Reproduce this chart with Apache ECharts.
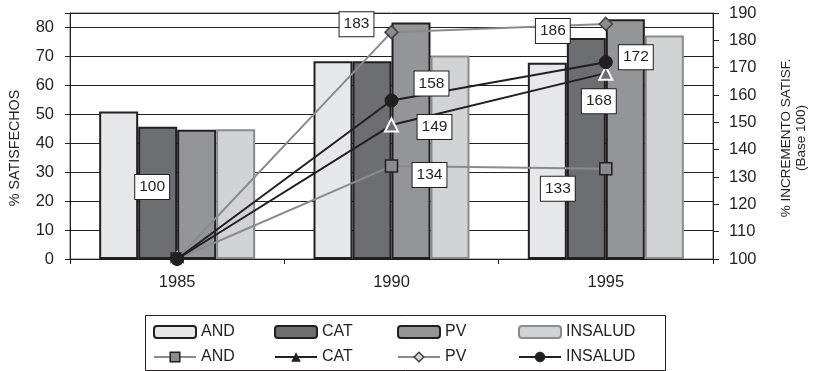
<!DOCTYPE html>
<html><head><meta charset="utf-8">
<script src="https://cdn.jsdelivr.net/npm/echarts@6/dist/echarts.min.js"></script>
<style>html,body{margin:0;padding:0;background:#fff}#c{width:814px;height:371px}</style>
</head><body><div id="c"></div>
<script>
// ---- data ----
const years = ['1985', '1990', '1995'];
const names = ['AND', 'CAT', 'PV', 'INSALUD'];
const barAND = [51, 68.3, 67.8];
const barCAT = [45.7, 68.3, 76.4];
const barPV = [44.7, 81.7, 82.8];
const barINSALUD = [44.8, 70.3, 77.2];
const lineAND = [100, 134, 133];
const lineCAT = [100, 149, 168];
const linePV = [100, 183, 186];
const lineINSALUD = [100, 158, 172];
const leftAxisTicks = { min: 0, max: 85, interval: 10, lastLabel: 80 };
const rightAxisTicks = { min: 100, max: 190, interval: 10 };
const leftAxisTitle = '% SATISFECHOS';
const rightAxisTitle = ['% INCREMENTO SATISF.', '(Base 100)'];

// ---- styles ----
const FONT = '"Liberation Sans", Arial, sans-serif';
const INK = '#231f20';
const barFill = ['#e6e7e8', '#6d6e71', '#939598', '#d1d3d4'];
const barBorder = [INK, INK, INK, '#8a8b8d'];
const labelOffsets = {
  AND: [[-25, -72], [38, 9], [-48, 20]],
  CAT: [null, [43, 2], [-7, 28]],
  PV: [null, [-35, -8], [-53, 7]],
  INSALUD: [null, [40, -17], [30, -5]]
};
const lineStyles = {
  AND: { color: '#8a8b8d', symbol: 'rect', size: 12, fill: '#8a8b8d', border: INK, bw: 1.5 },
  CAT: { color: INK, symbol: 'triangle', size: 13, fill: '#6d6e71', border: '#ffffff', bw: 2 },
  PV: { color: '#8a8b8d', symbol: 'diamond', size: 13, fill: '#8a8b8d', border: '#414042', bw: 1.5 },
  INSALUD: { color: INK, symbol: 'circle', size: 13, fill: INK, border: INK, bw: 1 }
};
const legendSymbolStyle = {
  AND: { color: '#8a8b8d', borderColor: INK, borderWidth: 1.5 },
  CAT: { color: INK, borderColor: INK, borderWidth: 0 },
  PV: { color: '#d1d3d4', borderColor: '#414042', borderWidth: 1.5 },
  INSALUD: { color: INK, borderColor: INK, borderWidth: 1 }
};

const barData = [barAND, barCAT, barPV, barINSALUD];
const lineData = [lineAND, lineCAT, linePV, lineINSALUD];

const series = [];
names.forEach((n, i) => {
  series.push({
    name: n, type: 'bar', xAxisIndex: 0, yAxisIndex: 0,
    data: barData[i], barWidth: 39, barGap: '0%',
    itemStyle: { color: barFill[i], borderColor: barBorder[i], borderWidth: 2 },
    z: 2
  });
});
names.forEach((n, i) => {
  const st = lineStyles[n];
  series.push({
    name: n + ' ', type: 'line', xAxisIndex: 0, yAxisIndex: 1,
    data: lineData[i].map((v, j) => {
      const off = labelOffsets[n][j];
      return off ? { value: v, label: { show: true, offset: off } } : { value: v };
    }),
    symbol: st.symbol, symbolSize: st.size, showAllSymbol: true,
    lineStyle: { color: st.color, width: 2 },
    itemStyle: { color: st.fill, borderColor: st.border, borderWidth: st.bw },
    label: {
      show: false, position: 'inside', fontFamily: FONT, fontSize: 15.5, color: INK,
      backgroundColor: '#ffffff', borderColor: INK, borderWidth: 1, padding: [5, 4, 3, 4],
      formatter: p => String(p.value)
    },
    emphasis: { disabled: true },
    z: 5 + i
  });
});

const legendX = [153, 274, 397, 518];
const legends = [];
names.forEach((n, i) => {
  legends.push({ data: [n], left: legendX[i], top: 324, itemWidth: 42, itemHeight: 12, padding: 0, itemGap: 0,
    textStyle: { fontFamily: FONT, fontSize: 16, color: INK }, selectedMode: false });
  legends.push({ data: [n + ' '], left: legendX[i], top: 349, itemWidth: 42, itemHeight: 12, padding: 0, itemGap: 0,
    textStyle: { fontFamily: FONT, fontSize: 16, color: INK }, selectedMode: false,
    itemStyle: legendSymbolStyle[n],
    formatter: s => s.trim() });
});

const titleText = (txt, x, y, size) => ({
  type: 'text', x: x, y: y, rotation: Math.PI / 2, silent: true,
  style: { text: txt, fontFamily: FONT, fontSize: size, fill: INK, align: 'center', verticalAlign: 'middle' }
});

const chart = echarts.init(document.getElementById('c'), null, { renderer: 'canvas' });
chart.setOption({
  animation: false,
  backgroundColor: '#ffffff',
  grid: { left: 70, right: 101, top: 13, bottom: 112, show: true, borderColor: '#6d6e71', borderWidth: 1 },
  legend: legends,
  graphic: [
    { type: 'rect', left: 143, top: 313, shape: { width: 520, height: 55 },
      style: { fill: 'none', stroke: INK, lineWidth: 1 }, silent: true },
    titleText(leftAxisTitle, 15, 148, 14.3),
    titleText(rightAxisTitle[0], 786, 138, 13.5),
    titleText(rightAxisTitle[1], 801, 138, 13.5)
  ],
  xAxis: [{
    type: 'category', data: years, boundaryGap: true,
    axisLine: { lineStyle: { color: INK, width: 1 } },
    axisTick: { show: true, length: 5, lineStyle: { color: INK } },
    axisLabel: { fontFamily: FONT, fontSize: 16.5, color: INK, margin: 15 }
  }],
  yAxis: [{
    type: 'value', position: 'left', min: leftAxisTicks.min, max: leftAxisTicks.max, interval: leftAxisTicks.interval,
    axisLine: { show: true, lineStyle: { color: INK } },
    axisTick: { show: true, length: 5, lineStyle: { color: INK } },
    axisLabel: { fontFamily: FONT, fontSize: 16.5, color: INK, margin: 16,
      formatter: v => (v > leftAxisTicks.lastLabel ? '' : String(v)) },
    splitLine: { show: true, lineStyle: { color: INK, width: 1 } }
  }, {
    type: 'value', position: 'right', min: rightAxisTicks.min, max: rightAxisTicks.max, interval: rightAxisTicks.interval,
    axisLine: { show: true, lineStyle: { color: INK } },
    axisTick: { show: true, length: 6, lineStyle: { color: INK } },
    axisLabel: { fontFamily: FONT, fontSize: 16.5, color: INK, margin: 16 },
    splitLine: { show: false }
  }],
  series: series
});
</script>
</body></html>
